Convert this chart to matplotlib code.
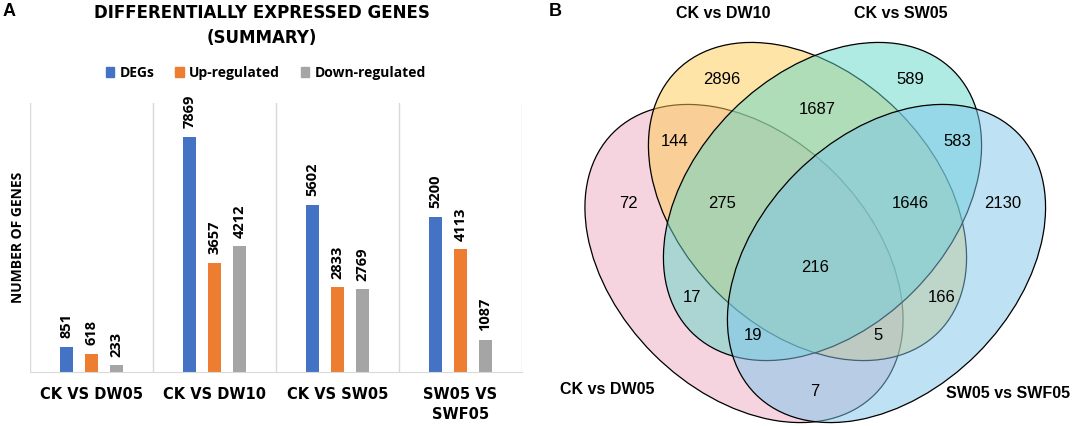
import numpy as np
import matplotlib.pyplot as plt
from matplotlib.patches import Ellipse, Rectangle

# bar chart data
categories = ["CK VS DW05", "CK VS DW10", "CK VS SW05", "SW05 VS\nSWF05"]
degs = [851, 7869, 5602, 5200]
up = [618, 3657, 2833, 4113]
down = [233, 4212, 2769, 1087]
series_names = ["DEGs", "Up-regulated", "Down-regulated"]
bar_colors = ["#4472C4", "#ED7D31", "#A5A5A5"]

# venn data
set_names = ["CK vs DW05", "CK vs DW10", "CK vs SW05", "SW05 vs SWF05"]
regions = ["A", "B", "C", "D", "AB", "BC", "CD", "AD", "AC", "BD",
           "ABC", "BCD", "ACD", "ABD", "ABCD"]
counts = [72, 2896, 589, 2130, 144, 1687, 583, 7, 17, 166,
          275, 1646, 19, 5, 216]

W, H = 1072, 426
fig = plt.figure(figsize=(W / 100, H / 100), dpi=100)

# ---------- panel A ----------
ax = fig.add_axes([30 / W, 54 / H, 492 / W, 269 / H])
x = np.arange(len(categories))
bw = 0.108
off = 0.203
for i, (vals, col) in enumerate(zip([degs, up, down], bar_colors)):
    pos = x + (i - 1) * off
    ax.bar(pos, vals, width=bw, color=col, label=series_names[i])
    for p, v in zip(pos, vals):
        ax.annotate(str(v), (p, v), xytext=(0, 6), textcoords="offset points",
                    rotation=90, ha="center", va="bottom",
                    fontsize=10.5, fontweight="bold", family="Open Sans")

ax.set_xlim(-0.5, 3.5)
ax.set_ylim(0, 9000)
for xv in np.arange(-0.5, 3.6, 1):
    ax.axvline(xv, color="#D9D9D9", lw=1, zorder=0)
for s in ["top", "right", "left"]:
    ax.spines[s].set_visible(False)
ax.spines["bottom"].set_color("#D9D9D9")
ax.set_yticks([])
ax.set_xticks(x)
ax.set_xticklabels(categories, fontsize=10.5, fontweight="bold",
                   family="DejaVu Sans", linespacing=1.4)
ax.tick_params(axis="x", length=0, pad=11)

fig.text(18 / W, 1 - 237 / H, "NUMBER OF GENES", rotation=90, ha="center",
         va="center", fontsize=10, fontweight="bold", family="Open Sans")
fig.text(262 / W, 1 - 13 / H, "DIFFERENTIALLY EXPRESSED GENES", ha="center",
         va="center", fontsize=12, fontweight="bold", family="DejaVu Sans")
fig.text(262 / W, 1 - 38 / H, "(SUMMARY)", ha="center",
         va="center", fontsize=12, fontweight="bold", family="DejaVu Sans")
fig.text(9 / W, 1 - 12 / H, "A", ha="center", va="center",
         fontsize=13, fontweight="bold", family="Liberation Sans")

handles = [Rectangle((0, 0), 1, 1, color=c) for c in bar_colors]
fig.legend(handles, series_names, ncol=3, loc="center",
           bbox_to_anchor=(266 / W, 1 - 73 / H), frameon=False,
           handlelength=0.6, handleheight=0.65, handletextpad=0.4,
           columnspacing=1.5, prop={"family": "Open Sans", "weight": "bold", "size": 10})

# ---------- panel B ----------
vx = fig.add_axes([0.5, 0, 0.5, 1])
vx.set_xlim(536, 1072)
vx.set_ylim(0, 426)
vx.axis("off")

fills = ["#ECA8C0", "#FFCB51", "#61D7C9", "#7FC7EB"]
centers = [(744, 162.5), (807.5, 224.5), (822.5, 224.5), (886.5, 162.5)]
angles = [-45, -45, 45, 45]
for (cx, cy), ang, col in zip(centers, angles, fills):
    e = Ellipse((cx, cy), 370, 256, angle=ang,
                facecolor=plt.matplotlib.colors.to_rgba(col, 0.5),
                edgecolor="black", lw=0.9)
    vx.add_patch(e)

label_pos = {"A": (628, 203), "B": (722, 79), "C": (910, 79), "D": (1003, 203),
             "AB": (675, 142), "BC": (817, 110), "CD": (957, 142), "AD": (815, 392),
             "AC": (692, 297), "BD": (942, 297), "ABC": (722, 203), "BCD": (910, 203),
             "ACD": (753, 335), "ABD": (878, 335), "ABCD": (815, 267)}
for r, c in zip(regions, counts):
    px, py = label_pos[r]
    vx.text(px, H - py, str(c), ha="center", va="center", fontsize=12,
            family="Liberation Sans")

name_pos = [(607, 390), (723, 13), (901, 13), (1008, 394)]
for n, (px, py) in zip(set_names, name_pos):
    vx.text(px, H - py, n, ha="center", va="center", fontsize=11.5,
            fontweight="bold", family="Liberation Sans")
vx.text(555, H - 11, "B", ha="center", va="center", fontsize=13,
        fontweight="bold", family="Liberation Sans")

fig.savefig("out.png", dpi=100)
